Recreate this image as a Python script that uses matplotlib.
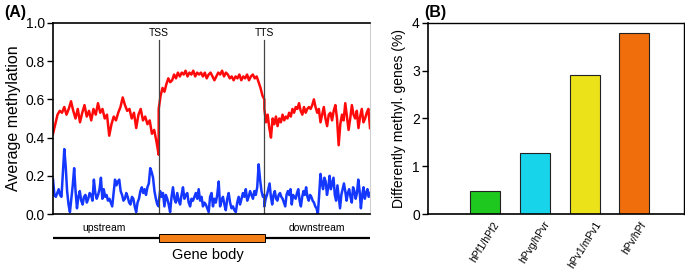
import numpy as np
import matplotlib
matplotlib.use("Agg")
import matplotlib.pyplot as plt
from matplotlib.patches import Rectangle

plt.rcParams['font.family'] = ['Liberation Sans', 'DejaVu Sans']

# Panel A: average methylation
red_up = [0.42, 0.47, 0.52, 0.54, 0.53, 0.56, 0.52, 0.55, 0.59, 0.54, 0.50, 0.55,
          0.48, 0.53, 0.57, 0.51, 0.54, 0.49, 0.55, 0.52, 0.58, 0.53, 0.55, 0.50,
          0.52, 0.41, 0.47, 0.51, 0.49, 0.53, 0.56, 0.61, 0.57, 0.54, 0.55, 0.50,
          0.53, 0.45, 0.52, 0.55, 0.49, 0.51, 0.47, 0.49, 0.42, 0.44, 0.38, 0.31]
red_body = [0.55, 0.62, 0.66, 0.64, 0.68, 0.71, 0.69, 0.70, 0.73, 0.71, 0.74, 0.72,
            0.74, 0.73, 0.75, 0.72, 0.74, 0.73, 0.75, 0.72, 0.74, 0.73, 0.74, 0.72,
            0.74, 0.71, 0.73, 0.74, 0.72, 0.70, 0.72, 0.74, 0.73, 0.75, 0.72, 0.74,
            0.73, 0.71, 0.72, 0.70, 0.72, 0.71, 0.73, 0.70, 0.72, 0.71, 0.73, 0.70,
            0.72, 0.73, 0.71, 0.72, 0.69, 0.66, 0.62, 0.60]
red_down = [0.55, 0.48, 0.52, 0.45, 0.40, 0.50, 0.47, 0.51, 0.46, 0.50, 0.48, 0.52,
            0.49, 0.51, 0.50, 0.53, 0.51, 0.55, 0.53, 0.56, 0.55, 0.58, 0.54, 0.52,
            0.56, 0.53, 0.55, 0.56, 0.55, 0.57, 0.60, 0.56, 0.53, 0.55, 0.48, 0.52,
            0.56, 0.50, 0.46, 0.52, 0.53, 0.49, 0.54, 0.57, 0.50, 0.36, 0.47, 0.52,
            0.49, 0.58, 0.51, 0.44, 0.50, 0.57, 0.52, 0.50, 0.54, 0.45, 0.51, 0.55,
            0.48, 0.50, 0.53, 0.55, 0.45]

blue_up = [0.18, 0.10, 0.09, 0.11, 0.13, 0.10, 0.09, 0.22, 0.34, 0.25, 0.12, 0.05,
           0.01, 0.08, 0.15, 0.24, 0.12, 0.03, 0.09, 0.12, 0.07, 0.05, 0.09, 0.10,
           0.06, 0.08, 0.11, 0.10, 0.07, 0.18, 0.11, 0.08, 0.10, 0.13, 0.19, 0.08,
           0.13, 0.09, 0.10, 0.07, 0.08, 0.06, 0.04, 0.11, 0.18, 0.15, 0.17, 0.18,
           0.12, 0.10, 0.07, 0.08, 0.11, 0.09, 0.06, 0.05, 0.09, 0.08, 0.04, 0.01,
           0.06, 0.08, 0.12, 0.14, 0.11, 0.13, 0.10, 0.14, 0.16, 0.24, 0.22, 0.19,
           0.12, 0.08, 0.05, 0.04]
blue_body = [0.06, 0.12, 0.09, 0.11, 0.04, 0.10, 0.08, 0.05, 0.01, 0.09, 0.14, 0.08,
             0.06, 0.11, 0.07, 0.05, 0.10, 0.14, 0.08, 0.10, 0.11, 0.06, 0.04, 0.08,
             0.07, 0.09, 0.11, 0.08, 0.13, 0.07, 0.09, 0.04, 0.06, 0.05, 0.03, 0.01,
             0.09, 0.11, 0.04, 0.08, 0.06, 0.10, 0.17, 0.04, 0.07, 0.09, 0.05, 0.02,
             0.08, 0.11, 0.06, 0.03, 0.04, 0.02, 0.01, 0.06, 0.09, 0.05, 0.08, 0.11,
             0.09, 0.13, 0.07, 0.09, 0.12, 0.10, 0.08, 0.12, 0.10, 0.14, 0.26, 0.18,
             0.12, 0.09, 0.10]
blue_down = [0.04, 0.08, 0.10, 0.13, 0.16, 0.09, 0.05, 0.10, 0.12, 0.08, 0.07, 0.10,
             0.11, 0.09, 0.08, 0.06, 0.04, 0.10, 0.12, 0.10, 0.13, 0.05, 0.10, 0.09,
             0.08, 0.11, 0.13, 0.07, 0.04, 0.09, 0.12, 0.10, 0.14, 0.09, 0.07, 0.10,
             0.09, 0.07, 0.06, 0.04, 0.03, 0.00, 0.10, 0.21, 0.16, 0.13, 0.19, 0.17,
             0.10, 0.14, 0.20, 0.13, 0.16, 0.19, 0.10, 0.07, 0.15, 0.09, 0.03, 0.10,
             0.13, 0.16, 0.12, 0.07, 0.11, 0.13, 0.09, 0.06, 0.14, 0.12, 0.08, 0.11,
             0.18, 0.12, 0.03, 0.10, 0.14, 0.08, 0.11, 0.13, 0.09, 0.11]

# Panel B: percentage of differently methylated genes
pairs = ['hPf1/hPf2', 'hPvg/hPvr', 'hPv1/mPv1', 'hPv/hPf']
pct = [0.49, 1.28, 2.92, 3.78]
bar_colors = ['#1ec81e', '#18d4ea', '#ece21a', '#f06e0c']


def region_x(vals, start, end):
    return np.linspace(start, end, len(vals))


fig = plt.figure(figsize=(6.85, 2.73), dpi=100)

# ---- panel A ----
axA = fig.add_axes([0.0774, 0.216, 0.4628, 0.700])
for up, body, down, col in [(red_up, red_body, red_down, '#ff0a0a'),
                            (blue_up, blue_body, blue_down, '#1438ff')]:
    xs = np.concatenate([region_x(up, 0, 100), region_x(body, 100, 200),
                         region_x(down, 200, 300)])
    ys = np.concatenate([up, body, down])
    axA.plot(xs, ys, color=col, lw=1.8)

axA.set_xlim(0, 300)
axA.set_ylim(0, 1.0)
axA.set_yticks([0, 0.2, 0.4, 0.6, 0.8, 1.0])
axA.set_yticklabels(['0.0', '0.2', '0.4', '0.6', '0.8', '1.0'])
axA.set_xticks([])
axA.tick_params(axis='y', direction='out', length=4, width=1, labelsize=10, pad=2)
axA.spines['left'].set_linewidth(1.2)
axA.spines['bottom'].set_linewidth(1.2)
axA.spines['top'].set_linewidth(1.2)
axA.spines['right'].set_color('#d0d0d0')
axA.set_ylabel('Average methylation', fontsize=11.5, labelpad=3)

for xpos, lab in [(100, 'TSS'), (200, 'TTS')]:
    axA.plot([xpos, xpos], [0, 0.91], color='#444444', lw=0.9)
    axA.text(xpos, 0.945, lab, ha='center', va='center', fontsize=7.5)

fig.text(0.006, 0.955, '(A)', fontsize=11.5, fontweight='bold', va='center')

# gene model under panel A
axG = fig.add_axes([0.0774, 0.040, 0.4628, 0.161])
axG.set_xlim(0, 300)
axG.set_ylim(0, 1)
axG.axis('off')
axG.plot([0, 300], [0.545, 0.545], color='black', lw=1.6)
axG.add_patch(Rectangle((100, 0.455), 101, 0.18, facecolor='#f57f17',
                        edgecolor='black', lw=0.7, zorder=3))
axG.text(48, 0.78, 'upstream', ha='center', va='center', fontsize=7.5)
axG.text(250, 0.78, 'downstream', ha='center', va='center', fontsize=7.5)
axG.text(147, 0.17, 'Gene body', ha='center', va='center', fontsize=10.5)

# ---- panel B ----
axB = fig.add_axes([0.625, 0.216, 0.3735, 0.700])
pos = np.arange(len(pairs))
axB.bar(pos, pct, width=0.6, color=bar_colors, edgecolor='#222222', lw=0.8)
axB.set_xlim(-1.15, 4.0)
axB.set_ylim(0, 4)
axB.set_yticks([0, 1, 2, 3, 4])
axB.set_xticks(pos)
axB.set_xticklabels(pairs, rotation=58, ha='center', fontsize=7.5)
axB.tick_params(axis='x', length=0, pad=4)
axB.tick_params(axis='y', direction='out', length=4, width=1, labelsize=10, pad=2)
for sp in axB.spines.values():
    sp.set_linewidth(1.0)
axB.spines['bottom'].set_linewidth(1.2)
axB.spines['left'].set_linewidth(1.2)
axB.set_ylabel('Differently methyl. genes (%)', fontsize=10, labelpad=4)

fig.text(0.620, 0.955, '(B)', fontsize=11.5, fontweight='bold', va='center')

fig.savefig('out.png', dpi=100)
